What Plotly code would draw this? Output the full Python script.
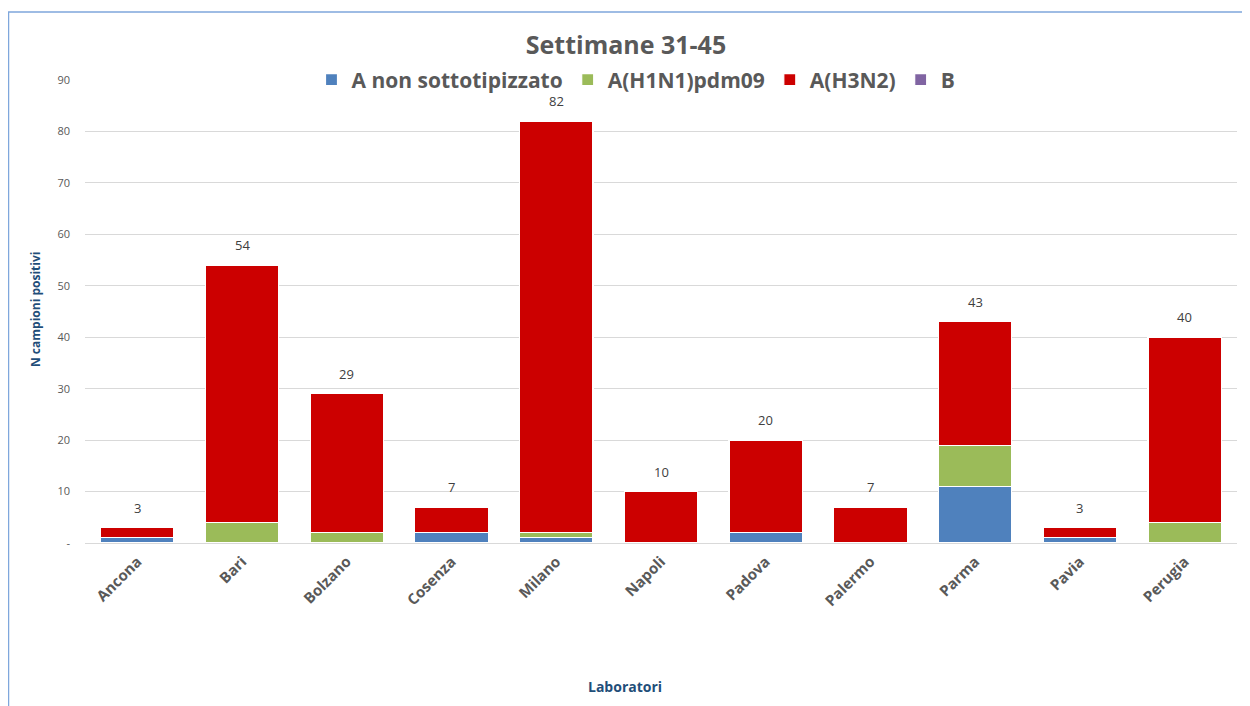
import plotly.graph_objects as go

categories = ["Ancona", "Bari", "Bolzano", "Cosenza", "Milano", "Napoli",
              "Padova", "Palermo", "Parma", "Pavia", "Perugia"]
a_non_sottotip = [1, 0, 0, 2, 1, 0, 2, 0, 11, 1, 0]
a_h1n1 = [0, 4, 2, 0, 1, 0, 0, 0, 8, 0, 4]
a_h3n2 = [2, 50, 27, 5, 80, 10, 18, 7, 24, 2, 36]
b_vals = [0, 0, 0, 0, 0, 0, 0, 0, 0, 0, 0]
y_ticks = [0, 10, 20, 30, 40, 50, 60, 70, 80, 90]
y_tick_labels = ["-", "10", "20", "30", "40", "50", "60", "70", "80", "90"]

series = [
    ("A non sottotipizzato", a_non_sottotip, "#4F81BD"),
    ("A(H1N1)pdm09", a_h1n1, "#9BBB59"),
    ("A(H3N2)", a_h3n2, "#CC0000"),
    ("B", b_vals, "#8064A2"),
]
totals = [sum(v) for v in zip(a_non_sottotip, a_h1n1, a_h3n2, b_vals)]

FONT = "Open Sans"
GREY = "#595959"
BLUE = "#1F4E79"

L, R, T, B = 77, 21, 72, 171
W, H = 1250, 706
PW, PH = W - L - R, H - T - B

fig = go.Figure()
for name, vals, col in series:
    fig.add_trace(go.Bar(
        x=categories, y=vals, name=name,
        marker=dict(color=col, line=dict(color="white", width=1.2)),
        hoverinfo="x+y+name",
    ))

annotations = [
    dict(x=c, y=t, xref="x", yref="y", text=str(t), showarrow=False,
         yanchor="middle", yshift=20,
         font=dict(family=FONT, size=13, color="#404040"))
    for c, t in zip(categories, totals)
]
annotations += [
    dict(text="<b>N campioni positivi</b>", xref="paper", yref="paper",
         x=(27 - L) / PW, y=(H - B - 302) / PH, textangle=-90, showarrow=False,
         xanchor="center", yanchor="middle",
         font=dict(family=FONT, size=12, color=BLUE)),
    dict(text="<b>Laboratori</b>", xref="paper", yref="paper",
         x=(617 - L) / PW, y=(H - B - 678) / PH, showarrow=False,
         xanchor="center", yanchor="middle",
         font=dict(family=FONT, size=14, color=BLUE)),
]

fig.update_layout(
    barmode="stack",
    bargap=0.3,
    width=W, height=H,
    margin=dict(l=L, r=R, t=T, b=B),
    paper_bgcolor="white", plot_bgcolor="white",
    font=dict(family=FONT, color=GREY),
    title=dict(text="<b>Settimane 31-45</b>", x=(618) / W, xanchor="center",
               y=1 - 37 / H, yanchor="middle", yref="container",
               font=dict(family=FONT, size=25, color=GREY)),
    legend=dict(orientation="h", x=(628 - L) / PW, xanchor="center", y=1.0, yanchor="middle",
                bgcolor="rgba(0,0,0,0)",
                font=dict(family=FONT, size=21, color=GREY, weight="bold"),
                itemwidth=30, traceorder="normal"),
    xaxis=dict(tickangle=-45, tickfont=dict(family=FONT, size=15, color=GREY, weight="bold"),
               showgrid=False, showline=False, ticks="", ticklabelstandoff=6),
    yaxis=dict(range=[0, 90], tickvals=y_ticks, ticktext=y_tick_labels,
               tickfont=dict(family=FONT, size=11, color=GREY),
               showgrid=True, gridcolor="#D9D9D9", gridwidth=1,
               zeroline=True, zerolinecolor="#D9D9D9", zerolinewidth=1,
               showline=False, ticks="", ticklabelstandoff=14),
    annotations=annotations,
    shapes=[
        dict(type="rect", xref="paper", yref="paper",
             x0=(0.5 - L) / PW, x1=1.2, y0=-0.6, y1=1 + (T - 4) / PH,
             line=dict(color="#7FA7DC", width=1.5), fillcolor="rgba(0,0,0,0)",
             layer="below"),
    ],
)

fig.write_html("out.html")
